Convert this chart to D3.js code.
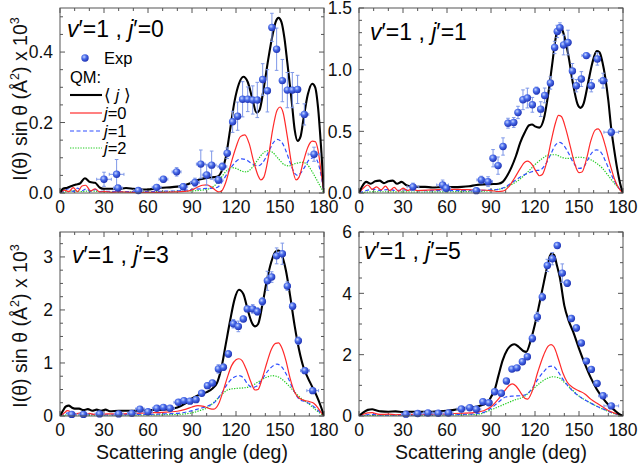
<!DOCTYPE html>
<html><head><meta charset="utf-8">
<script src="https://cdn.jsdelivr.net/npm/d3@7"></script>
<style>
html,body{margin:0;padding:0;background:#fff;}
text{font-family:Arial,"Liberation Sans",Helvetica,sans-serif;}
</style></head>
<body><svg id="chart" width="638" height="468"></svg>
<script>
// ---------- DATA ----------
const xTicks = [0,30,60,90,120,150,180];
const yTicks1 = [0.0,0.2,0.4];
const yTicks2 = [0.0,0.5,1.0,1.5];
const yTicks3 = [0,1,2,3];
const yTicks4 = [0,2,4,6];
const panelLabels = ["0","1","3","5"];

// panel 1 (v'=1, j'=0)
const p1_avg = [[0,0],[2,0.012],[5,0.015],[8,0.02],[11,0.024],[13.6,0.027],[17,0.042],[20.5,0.031],[23.9,0.029],[27.3,0.015],[30,0.012],[35,0.012],[40,0.012],[45,0.014],[50,0.012],[55,0.01],[60,0.01],[65,0.013],[70,0.015],[75,0.016],[80,0.018],[85,0.022],[90,0.03],[95,0.038],[100,0.043],[105,0.045],[108,0.048],[110,0.06],[113,0.1],[116,0.18],[119,0.26],[122,0.31],[125,0.33],[128,0.315],[131,0.27],[134,0.228],[136,0.235],[139,0.3],[142,0.38],[145,0.45],[147,0.485],[149,0.497],[151,0.485],[153,0.44],[155,0.37],[158,0.26],[160,0.18],[162,0.148],[164,0.16],[166,0.21],[169,0.28],[172,0.31],[174,0.3],[176,0.24],[178,0.13],[180,0]];
const p1_j0 = [[0,0],[3,0.008],[6,0.004],[9,0.015],[12,0.004],[15,0.02],[17.5,0.022],[21,0.006],[24,0.012],[27,0.003],[30,0.004],[35,0.002],[40,0.003],[50,0.002],[60,0.002],[70,0.002],[80,0.003],[88,0.006],[93,0.015],[97,0.022],[100,0.023],[103,0.018],[106,0.008],[108,0.003],[110,0.005],[113,0.03],[116,0.075],[120,0.13],[123,0.16],[126,0.165],[129,0.14],[132,0.09],[135,0.05],[137,0.037],[139,0.045],[142,0.1],[145,0.18],[148,0.235],[150,0.244],[152,0.23],[155,0.16],[158,0.08],[161,0.037],[163,0.045],[166,0.09],[169,0.13],[172,0.147],[174,0.146],[176,0.12],[178,0.06],[180,0]];
const p1_j1 = [[0,0],[3,0.006],[6,0.012],[9,0.004],[12,0.014],[15,0.006],[18,0.012],[21,0.004],[24,0.01],[27,0.004],[30,0.005],[40,0.004],[50,0.004],[60,0.004],[70,0.005],[80,0.006],[90,0.01],[100,0.013],[105,0.014],[108,0.018],[111,0.035],[114,0.055],[118,0.08],[121,0.093],[124,0.097],[127,0.094],[131,0.083],[135,0.077],[138,0.085],[142,0.115],[145,0.14],[148,0.152],[151,0.145],[154,0.12],[157,0.085],[160,0.056],[162,0.05],[164,0.056],[167,0.075],[170,0.095],[173,0.1],[175,0.095],[177,0.07],[180,0]];
const p1_j2 = [[0,0],[5,0.004],[10,0.006],[15,0.004],[20,0.006],[30,0.003],[50,0.003],[70,0.004],[90,0.006],[100,0.01],[105,0.02],[108,0.032],[111,0.05],[114,0.065],[117,0.072],[120,0.07],[124,0.062],[127,0.06],[131,0.072],[135,0.095],[139,0.115],[142,0.12],[145,0.115],[149,0.097],[153,0.08],[156,0.077],[160,0.083],[165,0.087],[168,0.083],[172,0.06],[176,0.03],[180,0]];
// [angle, value, xerr, yerr]
const p1_exp = [[30,0.039,5,0.02],[38.6,0.053,5,0.042],[39.5,0.014,3,0.005],[53.4,0.007,3,0.005],[65.9,0.016,3,0.008],[70.5,0.039,3,0.008],[79.5,0.06,3,0.012],[84,0.018,3,0.008],[92,0.03,3,0.012],[96,0.082,3,0.04],[100,0.051,3,0.03],[103.4,0.079,3,0.04],[108,0.037,3,0.01],[110.7,0.075,3,0.01],[114,0.113,2,0.015],[117.7,0.202,2,0.03],[121.1,0.218,2,0.04],[124.5,0.266,2,0.05],[128,0.266,2,0.035],[131.4,0.264,2,0.04],[134.5,0.264,2,0.05],[138.2,0.322,2,0.045],[141.4,0.29,2,0.06],[144.5,0.47,2,0.04],[147.7,0.408,2,0.06],[151.6,0.319,2,0.06],[155,0.292,2,0.05],[158.4,0.292,2,0.05],[162,0.294,2,0.04],[166.6,0.223,3,0.03],[173.2,0.11,4,0.02]];

// panel 2 (v'=1, j'=1)
const p2_avg = [[0,0],[2,0.05],[5,0.09],[8,0.075],[11,0.095],[14,0.1],[17,0.08],[20,0.095],[23,0.1],[26,0.075],[29,0.09],[32,0.065],[35,0.055],[40,0.05],[45,0.05],[50,0.045],[55,0.047],[60,0.05],[65,0.048],[70,0.05],[75,0.055],[80,0.065],[85,0.07],[90,0.072],[95,0.075],[98,0.09],[101,0.14],[104,0.21],[107,0.3],[110,0.41],[113,0.49],[116,0.55],[118,0.555],[120,0.54],[123,0.53],[126,0.6],[129,0.8],[132,1.07],[134,1.25],[136,1.34],[137.5,1.35],[139,1.31],[141,1.22],[143,1.1],[146,0.88],[149,0.72],[151,0.69],[153,0.72],[156,0.88],[159,1.05],[162,1.15],[164,1.14],[166,1.06],[168,0.93],[170,0.75],[172,0.52],[174,0.35],[176,0.2],[178,0.08],[180,0]];
const p2_j0 = [[0,0],[3,0.04],[6,0.065],[9,0.03],[12,0.05],[15,0.025],[18,0.055],[21,0.02],[24,0.045],[27,0.015],[30,0.04],[33,0.02],[36,0.03],[40,0.02],[50,0.025],[60,0.03],[70,0.028],[80,0.025],[90,0.02],[95,0.012],[98,0.015],[102,0.05],[106,0.12],[110,0.2],[113,0.25],[115,0.258],[118,0.23],[121,0.17],[123,0.14],[125,0.15],[128,0.25],[131,0.42],[134,0.57],[136,0.63],[138,0.62],[141,0.52],[144,0.38],[147,0.24],[150,0.165],[152,0.17],[155,0.27],[158,0.42],[161,0.51],[163,0.52],[165,0.49],[168,0.38],[171,0.24],[174,0.12],[177,0.04],[180,0]];
const p2_j1 = [[0,0],[5,0.02],[10,0.03],[15,0.02],[20,0.03],[25,0.02],[30,0.025],[40,0.02],[50,0.02],[60,0.02],[70,0.02],[80,0.02],[90,0.025],[95,0.03],[100,0.05],[105,0.09],[110,0.13],[115,0.16],[120,0.18],[124,0.19],[127,0.23],[131,0.32],[134,0.39],[137,0.41],[140,0.38],[143,0.32],[146,0.25],[150,0.2],[153,0.21],[156,0.27],[159,0.33],[162,0.35],[165,0.33],[168,0.26],[172,0.15],[176,0.06],[180,0]];
const p2_j2 = [[0,0],[10,0.01],[20,0.01],[40,0.008],[60,0.01],[80,0.012],[90,0.02],[95,0.03],[100,0.045],[105,0.075],[110,0.115],[115,0.17],[120,0.23],[125,0.28],[130,0.31],[134,0.31],[138,0.29],[142,0.28],[146,0.285],[150,0.29],[154,0.285],[158,0.27],[162,0.24],[166,0.2],[170,0.14],[174,0.08],[177,0.04],[180,0]];
const p2_exp = [[36.8,0.05,4,0.03],[57,0.065,4,0.04],[59.5,0.038,3,0.02],[80,0.019,3,0.02],[83.4,0.106,3,0.03],[88,0.092,3,0.04],[91.4,0.282,2,0.07],[94.8,0.222,2,0.07],[98.2,0.377,2,0.07],[101.6,0.566,2,0.04],[105.5,0.572,2,0.04],[108.4,0.653,2,0.05],[111.8,0.756,2,0.08],[114.8,0.77,2,0.08],[118.2,0.715,2,0.06],[121,0.829,2,0.03],[123.9,0.68,2,0.06],[126.6,0.791,2,0.06],[130.5,0.892,2,0.05],[133.4,1.18,2,0.05],[135.2,1.31,2,0.05],[137,1.34,2,0.04],[139.5,1.2,2,0.08],[142.5,1.22,2,0.1],[145.5,0.99,2,0.06],[148.2,0.87,2,0.05],[151.6,0.924,2,0.06],[155,1.114,3,0.02],[158.4,0.87,2,0.05],[162.5,1.087,2,0.05],[166.4,0.911,3,0.06],[172,0.493,5,0.03]];

// panel 3 (v'=1, j'=3)
const p3_avg = [[0,0],[2,0.1],[4,0.18],[6,0.195],[8,0.16],[10,0.14],[13,0.14],[16,0.11],[19,0.13],[22,0.1],[25,0.12],[28,0.1],[31,0.12],[34,0.09],[40,0.1],[50,0.1],[60,0.11],[70,0.12],[75,0.13],[80,0.16],[85,0.23],[90,0.33],[95,0.4],[100,0.45],[104,0.52],[107,0.62],[110,0.9],[113,1.35],[116,1.8],[119,2.2],[122,2.38],[125,2.3],[128,2.0],[131,1.75],[133,1.69],[135,1.73],[138,2.1],[141,2.55],[144,2.9],[147,3.1],[149,3.12],[151,3.05],[154,2.75],[157,2.25],[160,1.7],[163,1.25],[166,0.92],[169,0.72],[172,0.55],[175,0.38],[178,0.17],[180,0]];
const p3_j0 = [[0,0],[3,0.06],[5,0.1],[8,0.07],[11,0.04],[14,0.06],[17,0.03],[20,0.05],[23,0.03],[26,0.05],[29,0.03],[32,0.04],[40,0.04],[50,0.05],[60,0.06],[70,0.07],[80,0.09],[86,0.13],[90,0.17],[94,0.195],[98,0.18],[102,0.14],[105,0.13],[108,0.22],[111,0.45],[114,0.72],[117,0.95],[120,1.06],[122,1.08],[124,1.05],[127,0.88],[130,0.65],[133,0.49],[135,0.5],[138,0.72],[141,1.0],[144,1.25],[147,1.37],[149,1.38],[151,1.3],[154,1.05],[157,0.7],[160,0.45],[163,0.34],[166,0.3],[170,0.27],[173,0.24],[176,0.15],[178,0.07],[180,0]];
const p3_j1 = [[0,0],[3,0.04],[6,0.06],[9,0.03],[12,0.04],[16,0.02],[20,0.03],[30,0.02],[40,0.02],[50,0.03],[60,0.03],[70,0.04],[80,0.05],[90,0.1],[95,0.14],[100,0.18],[105,0.25],[110,0.42],[114,0.6],[118,0.72],[122,0.76],[125,0.72],[128,0.6],[131,0.54],[134,0.56],[138,0.7],[142,0.86],[146,0.96],[148,0.98],[151,0.93],[155,0.75],[159,0.5],[163,0.32],[167,0.27],[171,0.22],[175,0.13],[178,0.05],[180,0]];
const p3_j2 = [[0,0],[5,0.02],[10,0.02],[20,0.015],[40,0.015],[60,0.02],[80,0.03],[90,0.06],[95,0.1],[100,0.15],[105,0.26],[110,0.4],[115,0.5],[120,0.52],[125,0.53],[130,0.56],[135,0.64],[140,0.72],[145,0.76],[150,0.72],[155,0.6],[160,0.45],[165,0.32],[170,0.22],[175,0.1],[180,0]];
const p3_exp = [[8,0.03,3,0.01],[16,0.03,3,0.01],[27,0.04,3,0.01],[40,0.04,3,0.01],[49,0.05,3,0.01],[54.5,0.13,3,0.03],[60,0.08,3,0.02],[66,0.145,3,0.03],[70.5,0.163,3,0.03],[75,0.145,3,0.03],[80.7,0.258,3,0.04],[84.5,0.29,2,0.04],[88.6,0.28,2,0.04],[92.7,0.308,2,0.05],[96.6,0.428,2,0.04],[100.5,0.572,2,0.05],[103.9,0.623,2,0.05],[108,0.887,2,0.08],[111.4,0.918,2,0.06],[114.8,1.17,2,0.06],[118.2,1.74,2,0.08],[121.6,1.69,2,0.1],[125,1.83,2,0.05],[127.7,2.02,2,0.05],[131.4,2.02,2,0.08],[134.5,1.97,2,0.07],[138,2.16,2,0.07],[141.4,2.55,2,0.18],[144.3,2.62,2,0.1],[147.7,3.02,2,0.15],[151.6,3.06,2,0.2],[155,2.45,2,0.08],[158.6,2.07,2,0.06],[162.5,1.42,2,0.07],[167,0.855,3,0.05],[172.3,0.478,4,0.04]];

// panel 4 (v'=1, j'=5)
const p4_avg = [[0,0],[3,0.12],[6,0.2],[9,0.22],[12,0.18],[15,0.15],[20,0.14],[25,0.15],[30,0.13],[35,0.14],[40,0.13],[45,0.14],[50,0.14],[55,0.15],[60,0.17],[65,0.2],[70,0.24],[75,0.27],[80,0.3],[84,0.36],[88,0.45],[90,0.62],[92.5,0.85],[95,1.3],[98,1.82],[101,2.15],[104,2.31],[106,2.34],[109,2.25],[112,2.12],[114,2.09],[117,2.45],[120,3.0],[123,3.66],[126,4.35],[128,4.8],[131,5.3],[133,5.25],[135,4.9],[137,4.5],[140,3.6],[143,3.1],[146,2.75],[150,2.2],[154,1.7],[158,1.25],[162,0.88],[166,0.6],[170,0.37],[174,0.2],[177,0.08],[180,0]];
const p4_j0 = [[0,0],[3,0.06],[6,0.1],[9,0.11],[12,0.07],[15,0.05],[20,0.06],[25,0.04],[30,0.05],[40,0.05],[50,0.06],[60,0.07],[70,0.09],[80,0.12],[85,0.17],[90,0.3],[95,0.55],[99,0.8],[102,0.98],[104.5,1.05],[107,0.98],[110,0.78],[113,0.58],[115,0.55],[118,0.8],[122,1.45],[126,2.0],[129,2.28],[131,2.33],[133,2.25],[136,1.85],[139,1.4],[142,1.1],[146,0.92],[150,0.82],[154,0.72],[158,0.55],[162,0.42],[166,0.3],[170,0.18],[175,0.08],[180,0]];
const p4_j1 = [[0,0],[5,0.04],[10,0.05],[15,0.03],[20,0.03],[40,0.03],[60,0.04],[75,0.06],[85,0.12],[90,0.25],[95,0.45],[100,0.62],[105,0.65],[110,0.66],[114,0.7],[118,0.9],[122,1.2],[126,1.45],[130,1.62],[132,1.63],[135,1.5],[139,1.2],[143,0.95],[148,0.72],[153,0.55],[158,0.42],[163,0.3],[168,0.2],[173,0.1],[177,0.04],[180,0]];
const p4_j2 = [[0,0],[10,0.02],[30,0.02],[60,0.03],[80,0.05],[85,0.1],[90,0.2],[95,0.3],[100,0.4],[106,0.52],[112,0.62],[118,0.85],[124,1.1],[128,1.22],[132,1.28],[136,1.25],[140,1.1],[145,0.87],[150,0.65],[155,0.5],[160,0.37],[165,0.25],[170,0.15],[175,0.06],[180,0]];
const p4_exp = [[32,0.06,3,0.02],[40,0.08,3,0.02],[47,0.1,3,0.02],[54,0.09,3,0.02],[61,0.1,3,0.02],[69.8,0.228,3,0.04],[75.5,0.27,3,0.04],[80,0.22,3,0.04],[84.5,0.466,2,0.05],[88.6,0.43,2,0.06],[92.5,0.79,2,0.06],[97,0.74,2,0.05],[100.5,1.14,2,0.06],[104.3,1.53,2,0.05],[107.7,1.57,2,0.05],[111.4,1.77,2,0.05],[114.8,1.93,2,0.06],[118.2,2.53,2,0.12],[121.6,3.23,2,0.15],[125,3.88,2,0.12],[128.4,4.91,2,0.2],[131.8,5.13,2,0.2],[135.2,5.56,2,0.08],[138.6,4.66,2,0.3],[142,4.33,2,0.1],[144.8,3.18,2,0.1],[148.2,2.87,2,0.1],[151.6,2.38,2,0.08],[155,1.79,2,0.06],[158.4,1.52,2,0.08],[162.3,1.06,2,0.06],[166.4,0.66,3,0.05],[172,0.33,5,0.05]];

// ---------- LAYOUT ----------
const panels = [
  {x0:60, x1:324, y0:8,   y1:193, ymax:0.525, ticks:yTicks1, minor:0.05, fmt:d3.format(".1f"), avg:p1_avg, j0:p1_j0, j1:p1_j1, j2:p1_j2, exp:p1_exp, lab:panelLabels[0], lx:67,  ly:37},
  {x0:359,x1:623, y0:8,   y1:193, ymax:1.5,   ticks:yTicks2, minor:0.1,  fmt:d3.format(".1f"), avg:p2_avg, j0:p2_j0, j1:p2_j1, j2:p2_j2, exp:p2_exp, lab:panelLabels[1], lx:370, ly:40},
  {x0:60, x1:324, y0:232, y1:416, ymax:3.47,  ticks:yTicks3, minor:0.25, fmt:d3.format("d"),   avg:p3_avg, j0:p3_j0, j1:p3_j1, j2:p3_j2, exp:p3_exp, lab:panelLabels[2], lx:72,  ly:263},
  {x0:359,x1:623, y0:232, y1:416, ymax:6,     ticks:yTicks4, minor:0.5,  fmt:d3.format("d"),   avg:p4_avg, j0:p4_j0, j1:p4_j1, j2:p4_j2, exp:p4_exp, lab:panelLabels[3], lx:364, ly:259}
];

const svg = d3.select("#chart");
const defs = svg.append("defs");
const grad = defs.append("radialGradient").attr("id","ball").attr("cx","38%").attr("cy","35%").attr("r","65%");
grad.append("stop").attr("offset","0%").attr("stop-color","#c4d4ff");
grad.append("stop").attr("offset","45%").attr("stop-color","#4a6cea");
grad.append("stop").attr("offset","100%").attr("stop-color","#2034b4");

const frameColor = "#555";
const styles = {
  avg:{stroke:"#000", w:2.1, dash:null},
  j0:{stroke:"#ff2a2a", w:1.2, dash:null},
  j1:{stroke:"#2f4fff", w:1.2, dash:"4,2.5"},
  j2:{stroke:"#22cc22", w:1.2, dash:"1.3,1.3"}
};

panels.forEach((p,i)=>{
  const x = d3.scaleLinear().domain([0,180]).range([p.x0,p.x1]);
  const y = d3.scaleLinear().domain([0,p.ymax]).range([p.y1,p.y0]);
  const g = svg.append("g");
  const cid = "clip"+i;
  defs.append("clipPath").attr("id",cid).append("rect")
    .attr("x",p.x0).attr("y",p.y0).attr("width",p.x1-p.x0).attr("height",p.y1-p.y0);

  // ticks (inward, all four sides)
  const xMinor = d3.range(0,181,10);
  const yMinor = d3.range(0,p.ymax+1e-9,p.minor);
  const tg = g.append("g").attr("stroke",frameColor).attr("stroke-width",1);
  xMinor.forEach(v=>{
    const major = v%30===0;
    const L = major?5:3;
    tg.append("line").attr("x1",x(v)).attr("x2",x(v)).attr("y1",p.y1).attr("y2",p.y1-L);
    tg.append("line").attr("x1",x(v)).attr("x2",x(v)).attr("y1",p.y0).attr("y2",p.y0+L);
  });
  yMinor.forEach(v=>{
    const major = p.ticks.some(t=>Math.abs(t-v)<1e-6);
    const L = major?5:3;
    tg.append("line").attr("x1",p.x0).attr("x2",p.x0+L).attr("y1",y(v)).attr("y2",y(v));
    tg.append("line").attr("x1",p.x1).attr("x2",p.x1-L).attr("y1",y(v)).attr("y2",y(v));
  });

  // curves
  const line = d3.line().x(d=>x(d[0])).y(d=>y(d[1])).curve(d3.curveMonotoneX);
  const cg = g.append("g").attr("clip-path",`url(#${cid})`);
  ["j2","j1","j0","avg"].forEach(k=>{
    const s = styles[k];
    cg.append("path").datum(p[k]).attr("d",line).attr("fill","none")
      .attr("stroke",s.stroke).attr("stroke-width",s.w)
      .attr("stroke-dasharray",s.dash).attr("stroke-linejoin","round");
  });

  // experimental points with error bars
  const eg = g.append("g");
  p.exp.forEach(d=>{
    const cx=x(d[0]), cy=y(d[1]);
    const xl=x(d[0]-d[2]), xr=x(d[0]+d[2]);
    const yt=y(d[1]+d[3]), yb=y(d[1]-d[3]);
    const e = eg.append("g").attr("stroke","#7f98e8").attr("stroke-width",1);
    e.append("line").attr("x1",xl).attr("x2",xr).attr("y1",cy).attr("y2",cy);
    e.append("line").attr("x1",cx).attr("x2",cx).attr("y1",yt).attr("y2",yb);
    e.append("line").attr("x1",xl).attr("x2",xl).attr("y1",cy-1.5).attr("y2",cy+1.5);
    e.append("line").attr("x1",xr).attr("x2",xr).attr("y1",cy-1.5).attr("y2",cy+1.5);
    e.append("line").attr("x1",cx-1.8).attr("x2",cx+1.8).attr("y1",yt).attr("y2",yt);
    e.append("line").attr("x1",cx-1.8).attr("x2",cx+1.8).attr("y1",yb).attr("y2",yb);
  });
  p.exp.forEach(d=>{
    eg.append("circle").attr("cx",x(d[0])).attr("cy",y(d[1])).attr("r",3.7).attr("fill","url(#ball)");
  });

  // frame
  g.append("rect").attr("x",p.x0).attr("y",p.y0).attr("width",p.x1-p.x0).attr("height",p.y1-p.y0)
    .attr("fill","none").attr("stroke",frameColor).attr("stroke-width",1);

  // tick labels
  g.append("g").selectAll("text").data(xTicks).join("text")
    .attr("x",d=>x(d)).attr("y",p.y1+20).attr("text-anchor","middle")
    .attr("font-size",17.5).attr("fill","#111").text(d=>d);
  g.append("g").selectAll("text").data(p.ticks).join("text")
    .attr("x",p.x0-7).attr("y",d=>y(d)).attr("dy","0.36em").attr("text-anchor","end")
    .attr("font-size",17.5).attr("fill","#111").text(d=>p.fmt(d));

  // panel label
  const t = g.append("text").attr("x",p.lx).attr("y",p.ly).attr("font-size",23).attr("fill","#000");
  t.append("tspan").attr("font-style","italic").text("v");
  t.append("tspan").text("′=1 , ");
  t.append("tspan").attr("font-style","italic").text("j");
  t.append("tspan").text("′="+p.lab);
});

// axis titles
function yTitle(cx, cy){
  const t = svg.append("text").attr("transform",`translate(${cx},${cy}) rotate(-90)`)
    .attr("text-anchor","middle").attr("font-size",19.5).attr("fill","#111");
  t.append("tspan").text("I(θ) sin θ (Å");
  t.append("tspan").attr("font-size",12.5).attr("dy",-8).text("2");
  t.append("tspan").attr("dy",8).text(") x 10");
  t.append("tspan").attr("font-size",12.5).attr("dy",-8).text("3");
}
yTitle(27, 99);
yTitle(27, 326);
[[192,459],[491,459]].forEach(([cx,cy])=>{
  svg.append("text").attr("x",cx).attr("y",cy).attr("text-anchor","middle")
    .attr("font-size",19.5).attr("fill","#111").text("Scattering angle (deg)");
});

// legend (panel 1)
const lg = svg.append("g");
lg.append("circle").attr("cx",85).attr("cy",58).attr("r",3.7).attr("fill","url(#ball)");
lg.append("text").attr("x",104).attr("y",64).attr("font-size",16.5).text("Exp");
lg.append("text").attr("x",70).attr("y",83).attr("font-size",16.5).text("QM:");
const legItems = [["avg",95,null],["j0",113,"0"],["j1",131,"1"],["j2",148,"2"]];
legItems.forEach(([k,yy,lab])=>{
  const s = styles[k];
  lg.append("line").attr("x1",70).attr("x2",102).attr("y1",yy).attr("y2",yy)
    .attr("stroke",s.stroke).attr("stroke-width",s.w).attr("stroke-dasharray",s.dash);
  const t = lg.append("text").attr("x",104).attr("y",yy+5.5).attr("font-size",16.5);
  if(lab===null){
    t.append("tspan").text("⟨ ");
    t.append("tspan").attr("font-style","italic").text("j");
    t.append("tspan").text(" ⟩");
  } else {
    t.append("tspan").attr("font-style","italic").text("j");
    t.append("tspan").text("="+lab);
  }
});
</script>
</body></html>
